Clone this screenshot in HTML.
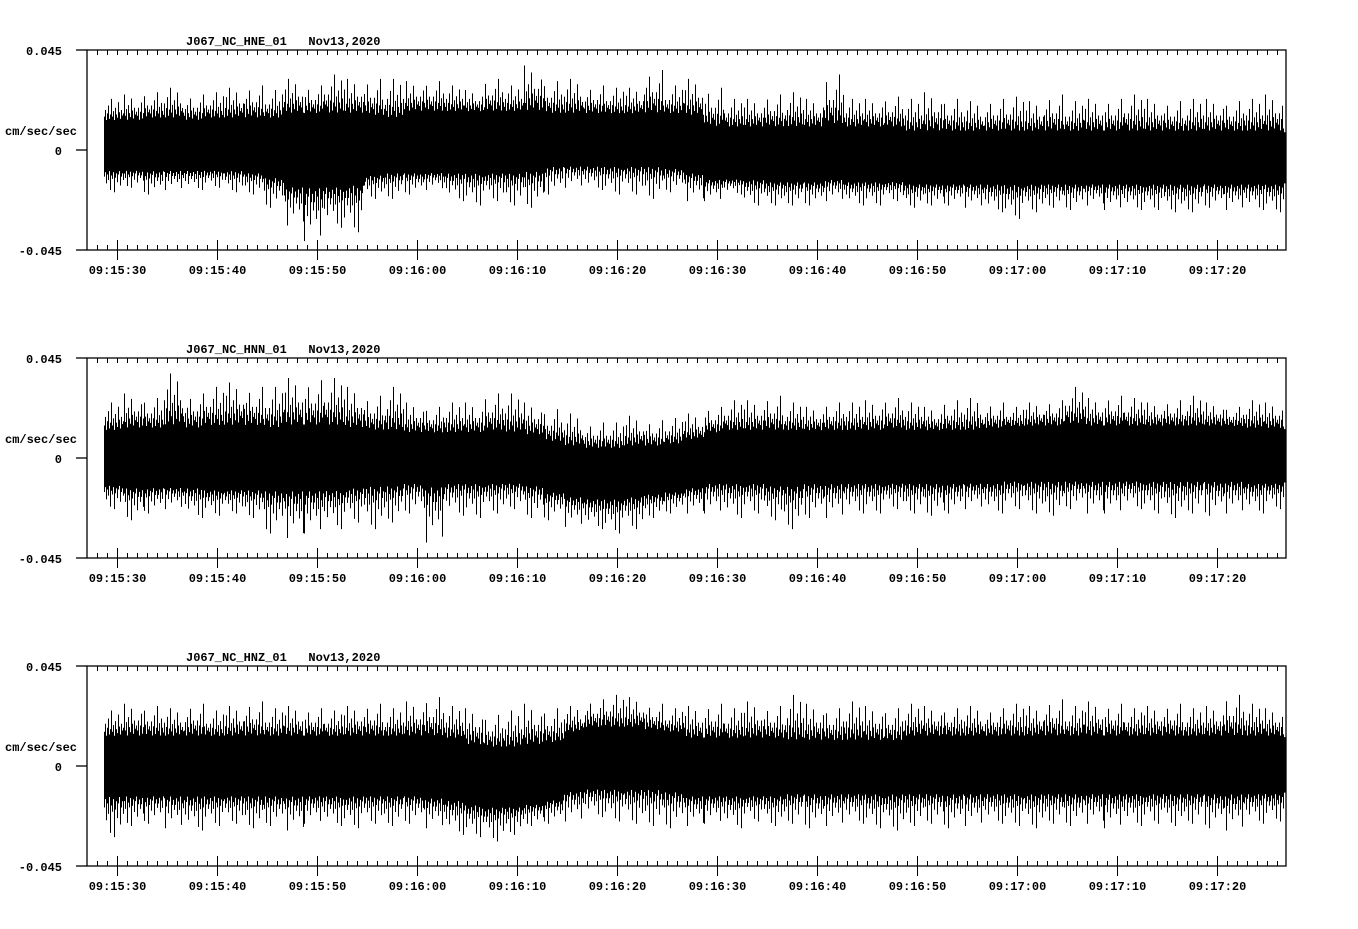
<!DOCTYPE html>
<html><head><meta charset="utf-8"><style>
html,body{margin:0;padding:0;background:#fff;}
svg text{font-family:"Liberation Mono",monospace;font-weight:bold;font-size:12px;fill:#000;white-space:pre;}
</style></head>
<body>
<svg id="chart" width="1358" height="924" viewBox="0 0 1358 924" xmlns="http://www.w3.org/2000/svg"></svg>
<script>
// data in units of 0.001 cm/sec/sec, 2-second bins starting at 09:15:28.7
const channels = ["J067_NC_HNE_01", "J067_NC_HNN_01", "J067_NC_HNZ_01"];
const dateLabel = "Nov13,2020";
const tickLabels = ["09:15:30","09:15:40","09:15:50","09:16:00","09:16:10","09:16:20","09:16:30","09:16:40","09:16:50","09:17:00","09:17:10","09:17:20"];
const yTickLabels = ["0.045","0","-0.045"];
const yTickValues = [45, 0, -45];

const peakTopE = [23,25,26,28,25,26,28,29,27,32,29,34,32,32,32,31,31,29,27,32,29,38,31,32,29,28,28,36,29,32,28,23,23,25,26,23,34,23,23,24,23,26,23,22,23,24,22,25,22,23,23,25,23,22,23,23,22,23,25];
const peakBotE = [-19,-17,-20,-18,-18,-17,-19,-20,-26,-34,-41,-35,-37,-22,-22,-20,-18,-23,-25,-23,-25,-26,-20,-17,-18,-20,-20,-22,-19,-23,-23,-20,-25,-25,-25,-25,-23,-25,-25,-23,-26,-25,-25,-26,-28,-31,-28,-26,-27,-25,-27,-27,-27,-28,-28,-26,-27,-27,-28];
const coreTopE = [13,13,14,14,13,14,14,14,14,16,16,16,16,15,14,17,17,17,17,17,17,17,16,16,16,16,16,16,16,15,10,10,10,10,10,10,11,10,10,10,8,8,8,8,8,8,8,8,8,8,8,8,8,8,8,8,8,8,8];
const coreBotE = [-9,-9,-9,-9,-9,-9,-9,-10,-12,-16,-16,-16,-15,-11,-10,-10,-10,-10,-10,-10,-10,-9,-7,-7,-7,-7,-7,-7,-8,-10,-13,-13,-13,-14,-14,-14,-13,-14,-14,-14,-15,-15,-15,-15,-15,-15,-15,-15,-15,-15,-15,-15,-15,-15,-15,-15,-15,-15,-15];

const peakTopN = [25,29,27,38,29,32,34,32,32,36,35,36,32,28,32,25,23,25,25,29,29,25,22,20,16,16,19,17,18,20,23,26,26,28,25,23,25,25,26,27,25,23,26,27,25,23,25,26,32,27,28,27,25,26,28,25,23,26,25];
const peakBotN = [-23,-28,-25,-23,-27,-26,-25,-27,-34,-36,-34,-32,-29,-32,-29,-25,-38,-26,-27,-25,-23,-27,-28,-31,-32,-34,-32,-27,-25,-25,-25,-27,-25,-28,-32,-27,-27,-25,-25,-23,-25,-26,-25,-23,-25,-23,-25,-26,-23,-25,-25,-23,-25,-27,-25,-26,-25,-25,-23];
const coreTopN = [12,13,13,14,13,14,14,14,13,14,14,14,13,12,12,11,11,11,11,12,11,10,7,5,4,4,5,5,6,8,11,12,12,12,12,12,12,12,12,13,12,12,12,12,13,14,14,14,15,14,14,14,14,14,14,14,14,13,13];
const coreBotN = [-12,-13,-13,-13,-13,-14,-14,-14,-14,-14,-14,-14,-13,-12,-12,-11,-12,-11,-11,-11,-11,-12,-15,-17,-18,-18,-17,-16,-15,-13,-11,-11,-11,-12,-12,-11,-11,-11,-11,-11,-11,-11,-11,-11,-11,-10,-10,-10,-10,-10,-10,-10,-10,-10,-10,-10,-10,-11,-11];

const peakTopZ = [25,28,27,26,28,25,27,29,26,27,26,25,27,28,26,29,31,27,26,23,25,28,26,27,30,32,31,28,26,27,28,26,29,27,32,28,26,29,27,26,28,27,26,27,26,28,27,30,27,29,28,26,27,28,26,27,32,28,26];
const peakBotZ = [-32,-27,-26,-28,-29,-27,-26,-28,-27,-29,-26,-27,-28,-26,-27,-26,-28,-31,-32,-34,-31,-27,-26,-25,-23,-25,-26,-27,-28,-27,-26,-28,-25,-27,-26,-28,-27,-26,-28,-29,-27,-26,-28,-27,-26,-27,-28,-26,-27,-26,-28,-27,-26,-27,-26,-28,-29,-26,-25];
const coreTopZ = [13,13,13,13,13,13,13,13,13,13,13,13,13,13,13,13,13,12,9,8,8,9,10,15,17,17,17,16,15,12,12,12,12,12,11,11,11,11,11,11,13,13,13,13,13,13,13,13,13,13,13,13,13,13,13,13,13,13,13];
const coreBotZ = [-13,-13,-13,-13,-13,-13,-13,-13,-13,-13,-13,-13,-13,-13,-13,-13,-14,-15,-17,-18,-18,-17,-15,-11,-10,-10,-10,-10,-11,-13,-13,-13,-13,-13,-12,-12,-12,-12,-12,-12,-12,-12,-12,-12,-12,-12,-12,-12,-12,-12,-12,-12,-12,-12,-12,-12,-12,-12,-12];

const series = [[peakTopE,peakBotE,coreTopE,coreBotE],[peakTopN,peakBotN,coreTopN,coreBotN],[peakTopZ,peakBotZ,coreTopZ,coreBotZ]];
const binStart = 1.7, binWidth = 2, tickStart = 3;

const NS = "http://www.w3.org/2000/svg";
const svg = document.getElementById("chart");
function mk(tag, attrs, parent){ const e=document.createElementNS(NS,tag); for(const k in attrs) e.setAttribute(k,attrs[k]); (parent||svg).appendChild(e); return e; }

const X0 = 87, X1 = 1286, PXS = 10;
function xScale(t){ return X0 + t*PXS; }
// rendering pattern for sub-bin strokes (style, not data)
const upPat = [0.2,0.5,0.05,0.35,0.7,0.1,0.3,1,0.2,0.45,0.05,0.6,0.3,0.15,0.85,0.4,0.1,0.5,0.25,0.35];
const dnPat = [0.3,0.1,0.6,0.2,0.45,0.05,0.9,0.25,0.4,0.1,1,0.35,0.15,0.55,0.2,0.05,0.7,0.3,0.15,0.45];

channels.forEach((ch, p) => {
  const top = 50 + p*308, bot = top + 200, mid = top + 100;
  function yScale(v){ return mid - v/45*100; }
  const g = mk("g", {});
  
  
  const [pt, pb, ct, cb] = series[p];
  const tr = mk("g", {stroke:"#000","stroke-width":1}, g);
  
  
  const n = ct.length;
  const cx = i => xScale(binStart+(i+0.5)*binWidth);
  let d = `M${xScale(binStart)},${yScale(ct[0])} `;
  for(let i=0;i<n;i++) d += `L${cx(i)},${yScale(ct[i])} `;
  d += `L${X1},${yScale(ct[n-1])} L${X1},${yScale(cb[n-1])} `;
  for(let i=n-1;i>=0;i--) d += `L${cx(i)},${yScale(cb[i])} `;
  d += `L${xScale(binStart)},${yScale(cb[0])} Z`;
  const core = mk("path", {d: d, fill:"#000", stroke:"none"}, tr);
  
  
  let sp = "";
  for(let i=0;i<n;i++){
    const x0 = xScale(binStart+i*binWidth);
    for(let k=0;k<20;k++){
      const x = x0 + k + 0.5;
      if (x > X1) break;
      const fu = upPat[(k+i*7)%20], fd = dnPat[(k+i*3)%20];
      const hi = ct[i] + (pt[i]-ct[i])*fu;
      const lo = cb[i] + (pb[i]-cb[i])*fd;
      sp += `M${x},${yScale(hi)} L${x},${yScale(lo)} `;
    }
  }
  const spikes = mk("path", {d: sp, fill:"none", stroke:"#000","stroke-width":1}, tr);
  
  
  const fr = mk("rect", {x:X0, y:top, width:X1-X0, height:200, fill:"none", stroke:"#000","stroke-width":1.3}, g);
  
  
  for(let s=1; s<120; s++){
    const x = xScale(s)+0.5;
    mk("line", {x1:x,x2:x,y1:top,y2:top+5,stroke:"#000"}, g);
    mk("line", {x1:x,x2:x,y1:bot-5,y2:bot,stroke:"#000"}, g);
  }
  tickLabels.forEach((lab,i)=>{
    const x = xScale(tickStart+i*10)+0.5;
    const t = mk("line", {x1:x,x2:x,y1:bot-10,y2:bot+10,stroke:"#000"}, g);
    
    
    const tx = mk("text", {x:x, y:bot+24, "text-anchor":"middle"}, g);
    tx.textContent = lab;
    
    
  });
  yTickValues.forEach((v,i)=>{
    const y = yScale(v);
    mk("line", {x1:76,x2:X0,y1:y,y2:y,stroke:"#000","stroke-width":1.3}, g);
    const tx = mk("text", {x:62, y:y+5, "text-anchor":"end"}, g);
    tx.textContent = yTickLabels[i];
    
    
  });
  const yt = mk("text", {x:5, y:mid-15}, g);
  yt.textContent = "cm/sec/sec";
  
  
  const ti = mk("text", {x:186, y:top-5}, g);
  ti.textContent = ch + "   " + dateLabel;
  
  
});
</script>
</body></html>
